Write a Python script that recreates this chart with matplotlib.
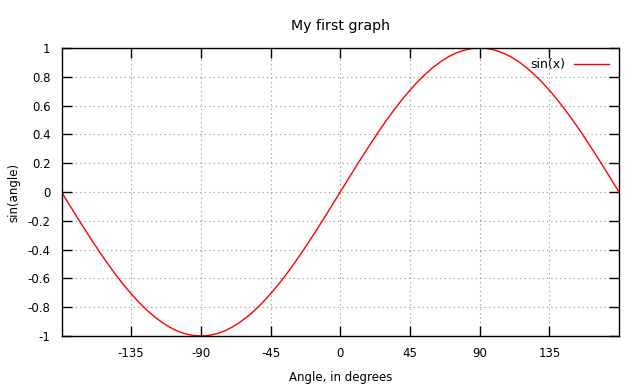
import matplotlib
matplotlib.use("Agg")
import matplotlib.pyplot as plt

# sin(angle) every 5 degrees
angle = [-180, -175, -170, -165, -160, -155, -150, -145, -140, -135,
         -130, -125, -120, -115, -110, -105, -100, -95, -90,
         -85, -80, -75, -70, -65, -60, -55, -50, -45,
         -40, -35, -30, -25, -20, -15, -10, -5, 0,
         5, 10, 15, 20, 25, 30, 35, 40, 45,
         50, 55, 60, 65, 70, 75, 80, 85, 90,
         95, 100, 105, 110, 115, 120, 125, 130, 135,
         140, 145, 150, 155, 160, 165, 170, 175, 180]
sin_angle = [0.0, -0.087, -0.174, -0.259, -0.342, -0.423, -0.5, -0.574, -0.643, -0.707,
             -0.766, -0.819, -0.866, -0.906, -0.94, -0.966, -0.985, -0.996, -1.0,
             -0.996, -0.985, -0.966, -0.94, -0.906, -0.866, -0.819, -0.766, -0.707,
             -0.643, -0.574, -0.5, -0.423, -0.342, -0.259, -0.174, -0.087, 0.0,
             0.087, 0.174, 0.259, 0.342, 0.423, 0.5, 0.574, 0.643, 0.707,
             0.766, 0.819, 0.866, 0.906, 0.94, 0.966, 0.985, 0.996, 1.0,
             0.996, 0.985, 0.966, 0.94, 0.906, 0.866, 0.819, 0.766, 0.707,
             0.643, 0.574, 0.5, 0.423, 0.342, 0.259, 0.174, 0.087, 0.0]
x_ticks = [-135, -90, -45, 0, 45, 90, 135]
y_ticks = [-1, -0.8, -0.6, -0.4, -0.2, 0, 0.2, 0.4, 0.6, 0.8, 1]

plt.rcParams['font.family'] = 'DejaVu Sans'
plt.rcParams['font.size'] = 8.5
plt.rcParams['axes.unicode_minus'] = False

fig = plt.figure(figsize=(6.4, 3.87), dpi=100)
ax = fig.add_axes([61.5/640, 1 - 336/387, (619 - 61.5)/640, (336 - 48)/387])

ax.plot(angle, sin_angle, color='#ff0000', lw=1, label='sin(x)')
ax.set_xlim(-180, 180)
ax.set_ylim(-1, 1)
ax.set_xticks(x_ticks)
ax.set_yticks(y_ticks)
ax.set_yticklabels(['%g' % v for v in y_ticks])
ax.tick_params(direction='in', length=7, width=1, top=True, right=True, pad=8)
ax.grid(True, color='#909090', linestyle=(0, (1, 3)), linewidth=0.8)
for s in ax.spines.values():
    s.set_linewidth(1)

ax.set_title('My first graph', pad=13)
ax.set_xlabel('Angle, in degrees', labelpad=8)
ax.set_ylabel('sin(angle)', labelpad=5)

leg = ax.legend(loc='upper right', frameon=False, markerfirst=False, fontsize=9,
                handlelength=2.8, borderaxespad=0.4, handletextpad=0.7)

fig.savefig('out.png', dpi=100)
